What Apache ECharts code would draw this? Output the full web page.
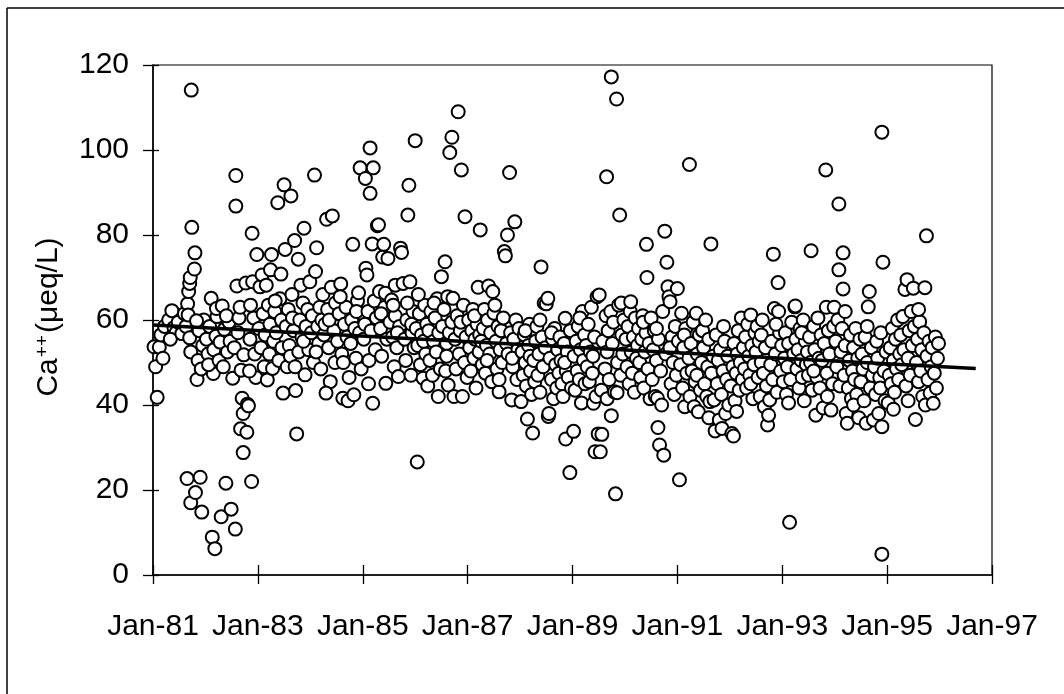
<!DOCTYPE html>
<html>
<head>
<meta charset="utf-8">
<script src="https://cdn.jsdelivr.net/npm/echarts@6/dist/echarts.min.js"></script>
<style>
html,body{margin:0;padding:0;background:#fff;}
#chart{width:1064px;height:694px;}
</style>
</head>
<body>
<div id="chart"></div>
<script>
// x = decimal year (81 = Jan-81), y = Ca++ (µeq/L)
const d1981 = [[81.02,53.7],[81.05,49.0],[81.08,41.8],[81.12,53.6],[81.15,56.5],[81.19,51.0],[81.22,58.5],
 [81.3,60.0],[81.36,62.2],[81.4,58.2],[81.44,57.0],[81.48,59.5],[81.33,55.5],
 [81.55,56.8],[81.6,61.5],[81.63,58.5],[81.65,22.7],[81.66,63.8],[81.67,61.2],[81.68,66.7],[81.7,68.6],[81.71,70.0],[81.72,17.0],[81.73,114.1],[81.74,81.8],[81.72,52.5],[81.7,55.8],
 [81.8,75.8],[81.79,72.0],[81.81,19.4],[81.84,46.0],[81.86,50.5],[81.88,57.5],[81.9,23.0],[81.93,14.8],[81.95,54.0],[81.97,60.0],[81.83,59.8],[81.92,48.5]];
const d1982 = [[82.02,55.5],[82.05,52.0],[82.08,58.5],[82.11,65.1],[82.13,8.9],[82.15,47.4],[82.18,6.2],[82.2,56.2],[82.22,60.8],[82.16,53.0],[82.06,49.5],[82.21,62.7],
 [82.26,50.5],[82.28,54.8],[82.3,13.7],[82.32,63.3],[82.34,49.0],[82.36,57.8],[82.39,21.6],[82.42,52.5],[82.45,59.5],[82.49,15.5],[82.47,55.0],[82.4,61.0],
 [82.52,46.3],[82.55,53.5],[82.57,10.8],[82.58,94.0],[82.58,86.8],[82.6,68.0],[82.62,57.0],[82.64,60.5],[82.67,34.4],[82.7,41.6],[82.72,28.8],[82.72,38.0],[82.73,51.8],[82.68,48.2],[82.66,63.0],
 [82.77,68.7],[82.79,33.6],[82.8,40.2],[82.82,39.8],[82.85,55.5],[82.88,22.0],[82.89,80.4],[82.9,69.0],[82.92,60.5],[82.94,52.0],[82.96,46.5],[82.98,75.4],[82.86,63.5],[82.84,48.0]];
const d1983 = [[83.02,58.0],[83.04,67.8],[83.06,53.5],[83.08,70.6],[83.1,61.5],[83.12,49.0],[83.14,56.5],[83.16,68.2],[83.18,45.9],[83.2,63.5],[83.22,52.0],[83.24,71.8],[83.26,75.4],[83.23,59.0],
 [83.28,48.6],[83.3,55.0],[83.32,62.0],[83.35,57.0],[83.38,87.6],[83.4,50.5],[83.42,65.0],[83.45,60.0],[83.48,42.8],[83.5,91.8],[83.46,53.5],[83.44,70.8],[83.33,64.5],
 [83.52,76.6],[83.54,58.5],[83.56,49.0],[83.58,62.5],[83.6,54.0],[83.63,89.2],[83.65,66.0],[83.68,57.5],[83.7,78.7],[83.72,43.4],[83.74,33.2],[83.62,51.5],[83.66,60.5],[83.71,49.0],
 [83.77,74.3],[83.78,52.5],[83.8,60.0],[83.82,68.2],[83.84,56.0],[83.86,64.0],[83.88,81.6],[83.9,47.1],[83.92,58.5],[83.95,62.5],[83.97,53.0],[83.99,69.0],[83.87,55.0]];
const d1984 = [[84.02,57.0],[84.04,61.0],[84.06,50.0],[84.08,94.1],[84.1,71.4],[84.12,77.0],[84.14,58.5],[84.16,54.5],[84.18,63.0],[84.2,48.5],[84.22,60.0],[84.24,66.0],[84.11,52.5],
 [84.26,56.5],[84.28,59.0],[84.31,83.7],[84.33,62.5],[84.35,53.5],[84.38,45.5],[84.4,67.7],[84.42,84.5],[84.45,57.5],[84.48,64.0],[84.47,50.0],[84.36,60.0],[84.3,42.8],
 [84.52,55.0],[84.55,61.5],[84.58,68.5],[84.6,52.0],[84.62,41.6],[84.65,59.0],[84.68,63.0],[84.7,56.0],[84.72,41.0],[84.74,46.5],[84.63,50.0],[84.57,65.5],
 [84.77,54.5],[84.79,60.0],[84.81,77.8],[84.83,42.4],[84.85,58.0],[84.87,51.0],[84.9,64.5],[84.92,66.4],[84.94,57.0],[84.95,95.8],[84.97,48.5],[84.99,61.5],[84.88,62.0]];
const d1985 = [[85.02,55.5],[85.04,59.0],[85.05,93.3],[85.06,72.2],[85.08,70.6],[85.1,62.0],[85.12,50.5],[85.14,100.5],[85.14,89.8],[85.16,57.5],[85.18,77.9],[85.19,40.4],[85.2,95.8],[85.22,64.5],[85.24,53.0],[85.11,45.0],
 [85.26,60.5],[85.28,82.2],[85.3,82.4],[85.32,66.7],[85.34,58.0],[85.36,51.5],[85.38,74.8],[85.4,77.8],[85.42,63.0],[85.44,45.1],[85.46,55.5],[85.48,74.5],[85.35,61.5],[85.43,66.3],
 [85.52,59.5],[85.55,64.7],[85.57,56.0],[85.6,49.0],[85.62,61.0],[85.65,53.5],[85.68,46.7],[85.7,58.5],[85.72,76.9],[85.74,75.9],[85.62,68.2],[85.66,57.0],[85.58,63.5],
 [85.77,68.6],[85.8,55.5],[85.82,50.5],[85.84,60.0],[85.86,84.7],[85.88,91.7],[85.9,69.0],[85.92,47.0],[85.94,57.0],[85.96,62.0],[85.98,53.5],[85.85,64.0],[85.93,59.0]];
const d1986 = [[86.0,102.2],[86.02,58.0],[86.04,26.6],[86.05,54.0],[86.08,61.5],[86.1,49.5],[86.12,56.5],[86.15,46.3],[86.18,63.5],[86.2,52.0],[86.22,59.0],[86.24,44.5],[86.06,66.0],[86.16,55.0],
 [86.26,57.5],[86.28,50.5],[86.3,62.0],[86.33,47.0],[86.35,55.0],[86.38,60.5],[86.4,52.5],[86.42,65.0],[86.45,57.0],[86.48,48.5],[86.44,42.0],[86.36,64.0],[86.5,70.2],
 [86.52,58.5],[86.55,62.5],[86.57,73.7],[86.58,48.0],[86.6,54.5],[86.62,65.5],[86.63,44.7],[86.65,57.0],[86.66,99.4],[86.7,103.0],[86.72,65.1],[86.74,42.0],[86.6,51.5],[86.7,59.5],
 [86.76,55.5],[86.78,48.5],[86.8,61.0],[86.82,109.0],[86.84,52.0],[86.86,57.5],[86.88,95.3],[86.9,42.0],[86.92,63.5],[86.94,50.0],[86.95,84.3],[86.97,56.0],[86.99,46.5],[86.87,59.5]];
const d1987 = [[87.02,60.0],[87.04,53.5],[87.06,48.0],[87.08,57.5],[87.1,62.5],[87.12,51.0],[87.14,55.5],[87.16,44.0],[87.18,59.0],[87.2,67.7],[87.22,52.5],[87.24,81.2],[87.23,56.5],[87.13,61.0],
 [87.26,55.0],[87.28,49.5],[87.3,58.0],[87.32,62.5],[87.34,47.5],[87.36,54.0],[87.38,60.0],[87.4,68.0],[87.42,52.0],[87.44,57.0],[87.46,45.5],[87.48,66.7],[87.37,50.5],
 [87.5,61.6],[87.52,63.5],[87.54,55.0],[87.56,48.5],[87.58,58.5],[87.6,43.1],[87.62,53.0],[87.64,57.5],[87.66,50.0],[87.68,60.5],[87.7,76.1],[87.72,75.1],[87.74,54.5],[87.6,46.0],
 [87.76,80.0],[87.77,52.0],[87.8,94.7],[87.82,57.0],[87.84,41.2],[87.86,49.0],[87.88,55.5],[87.9,83.1],[87.92,60.0],[87.94,46.0],[87.96,53.0],[87.98,58.0],[87.85,51.0]];
const d1988 = [[88.02,40.8],[88.04,52.5],[88.06,47.0],[88.08,56.5],[88.1,50.0],[88.12,44.5],[88.14,36.7],[88.16,54.0],[88.18,59.0],[88.2,48.0],[88.22,42.5],[88.24,33.4],[88.1,57.5],[88.19,51.5],
 [88.26,50.5],[88.28,45.5],[88.3,55.0],[88.32,58.5],[88.34,47.0],[88.36,52.0],[88.38,43.0],[88.4,72.5],[88.42,56.0],[88.44,49.0],[88.46,64.0],[88.48,53.5],[88.38,60.0],
 [88.5,63.8],[88.53,65.1],[88.54,37.3],[88.55,38.0],[88.57,51.0],[88.6,46.0],[88.62,55.5],[88.64,41.5],[88.66,58.0],[88.68,49.5],[88.7,44.0],[88.72,53.0],[88.74,47.5],[88.6,57.0],
 [88.76,56.0],[88.78,50.5],[88.8,45.0],[88.82,42.0],[88.84,54.5],[88.86,60.4],[88.87,32.0],[88.88,48.0],[88.9,52.5],[88.92,46.5],[88.95,24.1],[88.96,57.5],[88.98,44.0],[88.85,50.0]];
const d1989 = [[89.02,33.8],[89.03,51.5],[89.05,43.5],[89.07,55.0],[89.09,48.0],[89.11,58.5],[89.13,46.0],[89.15,53.0],[89.17,40.5],[89.19,62.0],[89.21,50.5],[89.23,56.5],[89.24,45.0],[89.14,60.5],
 [89.26,54.0],[89.28,49.0],[89.3,59.0],[89.32,45.5],[89.34,52.5],[89.36,63.0],[89.38,47.5],[89.4,40.4],[89.42,56.0],[89.43,29.0],[89.45,42.0],[89.47,65.5],[89.49,33.2],[89.39,51.5],
 [89.51,65.9],[89.53,29.0],[89.55,43.5],[89.56,33.1],[89.58,55.0],[89.65,93.7],[89.62,48.5],[89.64,61.0],[89.66,52.5],[89.68,57.5],[89.7,46.0],[89.74,117.2],[89.73,62.0],[89.74,37.5],[89.66,41.5],
 [89.76,54.5],[89.78,59.5],[89.8,43.1],[89.82,19.1],[89.84,112.0],[89.86,50.0],[89.88,63.5],[89.9,84.7],[89.92,47.0],[89.94,56.5],[89.96,52.0],[89.98,60.0],[89.85,42.9],[89.93,64.0]];
const d1990 = [[90.02,55.5],[90.04,49.0],[90.06,58.5],[90.08,45.0],[90.1,62.0],[90.12,52.5],[90.14,47.5],[90.16,56.0],[90.18,43.0],[90.2,60.5],[90.22,51.0],[90.24,54.0],[90.11,64.3],
 [90.26,58.0],[90.28,50.0],[90.3,46.5],[90.32,55.5],[90.34,61.0],[90.36,44.0],[90.38,52.5],[90.4,57.0],[90.41,77.8],[90.42,70.0],[90.44,48.5],[90.46,54.5],[90.48,41.5],[90.35,59.5],
 [90.5,60.5],[90.52,46.0],[90.54,53.0],[90.56,57.5],[90.58,42.0],[90.6,50.5],[90.62,41.6],[90.63,34.7],[90.64,55.5],[90.66,30.6],[90.68,48.0],[90.7,40.0],[90.72,62.0],[90.74,28.2],[90.6,58.0],
 [90.76,80.9],[90.78,52.0],[90.8,73.6],[90.82,67.8],[90.84,65.5],[90.86,64.3],[90.88,45.0],[90.9,56.0],[90.92,50.0],[90.94,42.5],[90.96,58.5],[90.98,47.0],[90.86,53.5]];
const d1991 = [[91.0,67.4],[91.02,55.0],[91.04,22.4],[91.06,49.5],[91.08,61.6],[91.1,44.0],[91.12,53.5],[91.14,39.6],[91.16,58.0],[91.18,47.5],[91.23,96.6],[91.22,51.0],[91.24,42.0],[91.13,56.5],
 [91.26,54.5],[91.28,48.0],[91.3,59.5],[91.32,39.6],[91.34,45.5],[91.36,61.6],[91.38,52.0],[91.4,38.4],[91.42,56.5],[91.44,43.5],[91.46,50.0],[91.48,57.5],[91.37,47.0],
 [91.5,53.5],[91.52,45.0],[91.54,60.0],[91.56,42.0],[91.58,49.0],[91.6,55.5],[91.62,40.8],[91.64,77.9],[91.65,47.5],[91.68,51.5],[91.7,41.2],[91.72,33.9],[91.74,56.5],[91.6,37.0],
 [91.76,45.0],[91.78,50.5],[91.8,36.5],[91.82,53.0],[91.84,42.5],[91.85,34.5],[91.87,48.0],[91.9,55.0],[91.92,38.0],[91.94,46.0],[91.96,51.5],[91.98,40.0],[91.88,58.5]];
const d1992 = [[92.02,44.5],[92.04,33.3],[92.06,49.0],[92.07,32.7],[92.08,54.5],[92.1,41.0],[92.12,47.5],[92.14,52.0],[92.16,57.5],[92.18,43.5],[92.2,50.0],[92.22,60.5],[92.24,46.0],[92.13,38.5],
 [92.26,53.5],[92.28,48.5],[92.3,56.0],[92.32,44.0],[92.34,59.0],[92.36,51.5],[92.38,47.0],[92.4,61.2],[92.42,54.0],[92.44,41.5],[92.46,49.5],[92.48,57.0],[92.4,45.0],
 [92.5,52.5],[92.52,58.5],[92.54,46.5],[92.56,55.0],[92.58,42.0],[92.6,50.0],[92.62,60.0],[92.64,47.5],[92.66,39.6],[92.68,53.5],[92.7,44.5],[92.72,35.3],[92.74,37.6],[92.6,56.5],
 [92.76,41.2],[92.78,49.5],[92.8,55.0],[92.82,46.0],[92.83,75.5],[92.85,62.7],[92.87,52.0],[92.9,43.0],[92.92,68.8],[92.93,62.0],[92.95,57.0],[92.97,48.0],[92.99,54.0],[92.88,59.0]];
const d1993 = [[93.02,45.5],[93.04,51.0],[93.06,57.0],[93.08,42.5],[93.1,49.0],[93.12,54.5],[93.14,12.4],[93.16,46.0],[93.18,59.5],[93.22,52.0],[93.24,63.1],[93.25,63.3],[93.12,40.5],
 [93.26,55.5],[93.28,48.5],[93.3,53.0],[93.32,44.0],[93.34,58.0],[93.36,50.5],[93.38,46.5],[93.4,60.0],[93.42,41.0],[93.44,55.0],[93.46,49.5],[93.48,52.5],[93.37,57.0],
 [93.5,47.0],[93.52,56.0],[93.54,50.0],[93.55,76.3],[93.57,43.5],[93.6,58.5],[93.62,53.0],[93.64,37.6],[93.66,46.5],[93.68,60.5],[93.7,51.0],[93.72,44.0],[93.74,56.5],[93.6,48.0],
 [93.76,50.5],[93.78,39.3],[93.8,54.5],[93.83,95.3],[93.84,63.0],[93.85,47.5],[93.88,57.5],[93.9,52.0],[93.93,38.8],[93.96,45.0],[93.98,58.5],[93.99,63.0],[93.86,42.0]];
const d1994 = [[94.02,55.0],[94.04,49.0],[94.06,60.0],[94.08,87.3],[94.08,71.8],[94.1,44.5],[94.12,52.5],[94.14,58.0],[94.16,75.8],[94.16,67.3],[94.18,47.0],[94.2,54.0],[94.22,38.0],[94.24,35.7],[94.2,62.0],
 [94.26,44.0],[94.28,50.5],[94.3,56.5],[94.32,41.5],[94.34,48.0],[94.36,53.5],[94.38,46.0],[94.4,58.0],[94.42,42.5],[94.44,51.0],[94.46,37.0],[94.48,55.5],[94.36,40.0],
 [94.5,45.5],[94.52,52.0],[94.54,48.5],[94.56,41.0],[94.58,56.0],[94.6,35.7],[94.62,50.0],[94.64,63.1],[94.66,66.7],[94.68,44.0],[94.7,53.5],[94.72,47.0],[94.74,36.5],[94.62,58.5],
 [94.76,49.0],[94.78,42.5],[94.8,55.0],[94.82,51.0],[94.84,38.0],[94.86,46.5],[94.88,57.0],[94.9,104.2],[94.9,34.9],[94.9,4.9],[94.92,73.6],[94.94,48.0],[94.96,41.0],[94.98,52.5],[94.87,44.0]];
const d1995 = [[95.02,40.5],[95.04,47.0],[95.06,53.5],[95.08,45.0],[95.1,58.0],[95.12,50.5],[95.14,43.0],[95.16,55.5],[95.18,48.5],[95.2,60.0],[95.22,46.0],[95.24,52.0],[95.12,39.0],
 [95.26,56.5],[95.28,49.5],[95.3,60.8],[95.32,53.0],[95.34,67.2],[95.36,44.5],[95.38,69.5],[95.4,51.0],[95.42,57.5],[95.44,47.0],[95.46,62.0],[95.48,54.0],[95.4,41.0],
 [95.5,67.5],[95.52,58.5],[95.54,36.6],[95.56,50.0],[95.58,55.5],[95.6,45.5],[95.62,59.6],[95.64,48.0],[95.66,53.0],[95.68,42.0],[95.7,57.0],[95.72,67.6],[95.73,40.0],[95.6,62.5],
 [95.75,79.8],[95.76,51.5],[95.78,46.0],[95.8,55.0],[95.82,42.8],[95.84,49.0],[95.86,53.5],[95.88,40.4],[95.9,47.5],[95.92,56.0],[95.94,44.0],[95.96,51.0],[95.98,54.5]];

const trendX = [81, 96.69];
const trendY = [58.8, 48.6];
const yTicks = [0, 20, 40, 60, 80, 100, 120];
const xTickYears = [81, 83, 85, 87, 89, 91, 93, 95, 97];

const samples = [].concat(d1981, d1982, d1983, d1984, d1985, d1986, d1987, d1988,
  d1989, d1990, d1991, d1992, d1993, d1994, d1995);
const trend = trendX.map((x, i) => [x, trendY[i]]);

const FONT = "'Liberation Sans', Arial, sans-serif";
const chart = echarts.init(document.getElementById('chart'), null, {renderer: 'canvas'});

const xBase = {
  type: 'value', min: xTickYears[0], max: xTickYears[xTickYears.length - 1], interval: 2,
  splitLine: {show: false}
};
const yBase = {
  type: 'value', min: yTicks[0], max: yTicks[yTicks.length - 1], interval: 20,
  splitLine: {show: false}
};

chart.setOption({
  backgroundColor: '#fff',
  animation: false,
  grid: {left: 153, right: 72, top: 65, bottom: 119, show: true, borderColor: '#000', borderWidth: 1.2, containLabel: false, outerBoundsMode: 'none'},
  xAxis: [
    Object.assign({}, xBase, {
      position: 'bottom',
      axisLine: {show: true, onZero: false, lineStyle: {color: '#000', width: 1.5}},
      axisTick: {show: true, inside: false, length: 9, lineStyle: {color: '#000', width: 1.3}},
      axisLabel: {show: true, color: '#000', fontSize: 30, fontFamily: FONT, margin: 37,
        formatter: v => 'Jan-' + v}
    }),
    Object.assign({}, xBase, {
      position: 'bottom',
      axisLine: {show: false},
      axisTick: {show: true, inside: true, length: 10, lineStyle: {color: '#000', width: 1.3}},
      axisLabel: {show: false}
    })
  ],
  yAxis: [
    Object.assign({}, yBase, {
      position: 'left',
      axisLine: {show: true, onZero: false, lineStyle: {color: '#000', width: 1.5}},
      axisTick: {show: true, inside: false, length: 10, lineStyle: {color: '#000', width: 1.3}},
      axisLabel: {show: true, color: '#000', fontSize: 30, fontFamily: FONT, margin: 24}
    }),
    Object.assign({}, yBase, {
      position: 'left',
      axisLine: {show: false},
      axisTick: {show: true, inside: true, length: 6, lineStyle: {color: '#000', width: 1.3}},
      axisLabel: {show: false}
    })
  ],
  graphic: [
    {type: 'line', shape: {x1: 7, y1: 8, x2: 1064, y2: 8}, style: {stroke: '#000', lineWidth: 1.5}, silent: true},
    {type: 'line', shape: {x1: 7, y1: 8, x2: 7, y2: 694}, style: {stroke: '#000', lineWidth: 1.5}, silent: true},
    {
      type: 'text', x: 49, y: 317, rotation: Math.PI / 2, silent: true,
      style: {
        text: '{a|Ca}{s|++}{a|(\u03bceq/L)}',
        align: 'center', verticalAlign: 'middle',
        rich: {
          a: {fontSize: 30, fontFamily: FONT, fill: '#000', color: '#000'},
          s: {fontSize: 19, fontFamily: FONT, fill: '#000', color: '#000', verticalAlign: 'top', padding: [0, 2, 12, 1]}
        }
      }
    }
  ],
  series: [
    {
      type: 'scatter', xAxisIndex: 0, yAxisIndex: 0, data: samples,
      symbol: 'circle', symbolSize: 13,
      itemStyle: {color: '#fff', borderColor: '#000', borderWidth: 2, opacity: 1},
      z: 2
    },
    {
      type: 'line', xAxisIndex: 0, yAxisIndex: 0, data: trend,
      symbol: 'none', lineStyle: {color: '#000', width: 3.5}, z: 3
    }
  ]
});
</script>
</body>
</html>
